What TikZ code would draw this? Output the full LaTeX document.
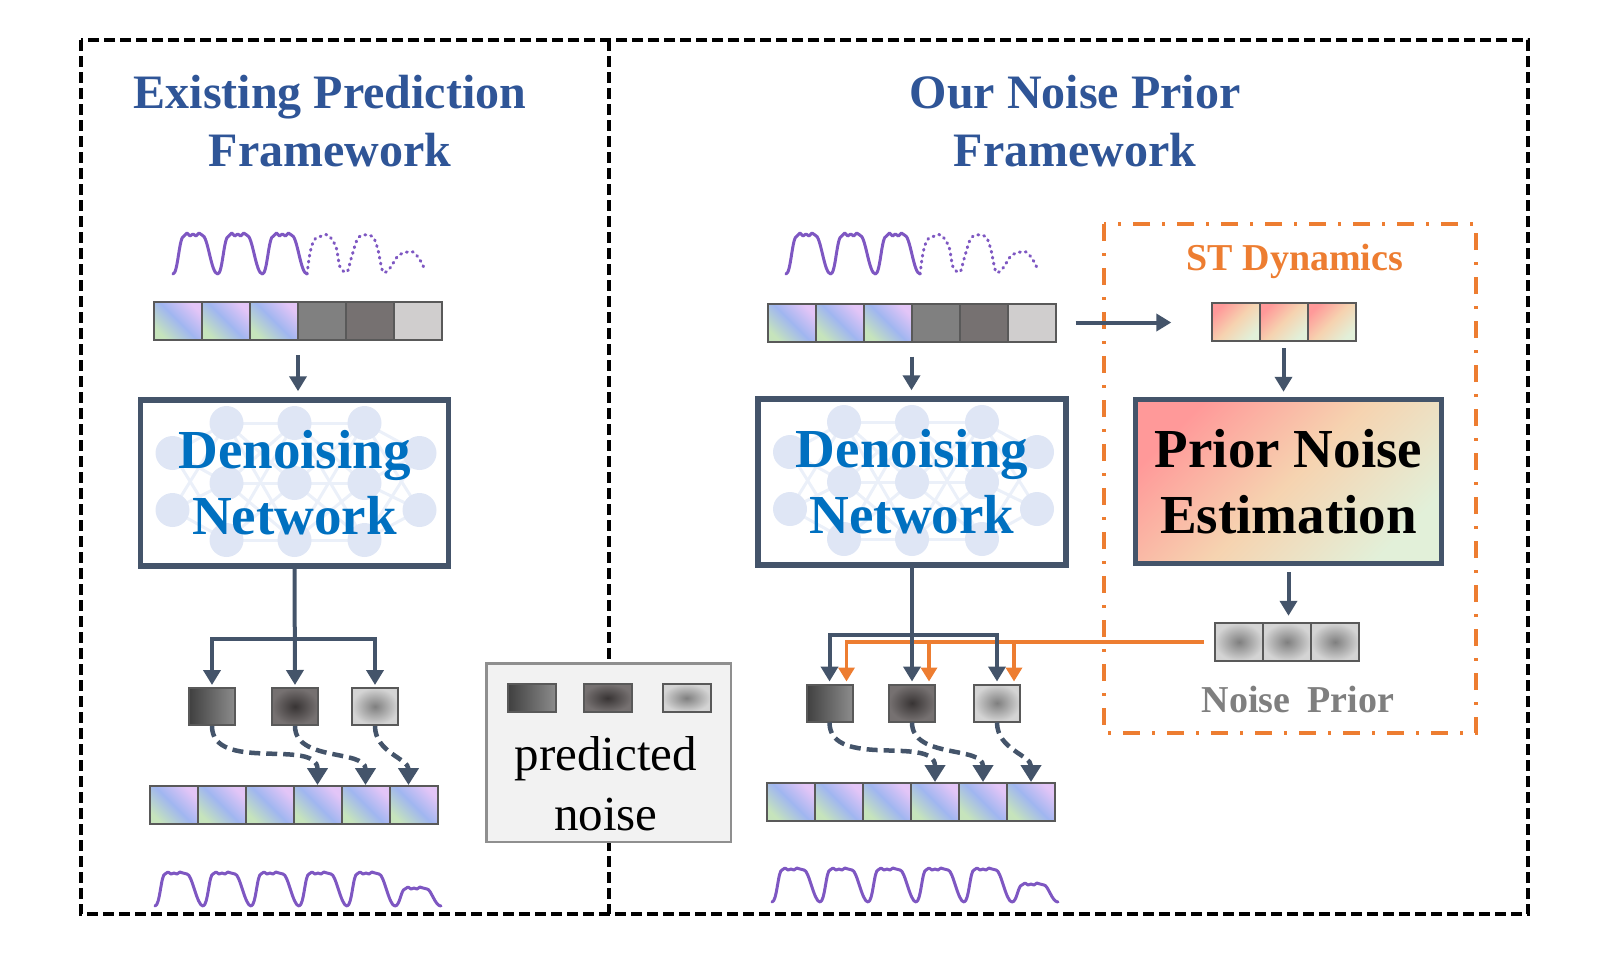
\documentclass[tikz,border=0pt]{standalone}
\usepackage{fontspec}
\setmainfont{Liberation Serif}
\usetikzlibrary{arrows.meta,positioning,matrix,backgrounds}

\definecolor{titleblue}{HTML}{2F5597}
\definecolor{dnblue}{HTML}{0070C0}
\definecolor{slate}{HTML}{44546A}
\definecolor{stor}{HTML}{ED7D31}
\definecolor{wave}{HTML}{7E57C2}
\definecolor{cellgray}{HTML}{595959}
\definecolor{pcell}{HTML}{E3C5F7}
\definecolor{bcell}{HTML}{A0B6F0}
\definecolor{gcell}{HTML}{C6E4BC}
\definecolor{futa}{HTML}{808080}
\definecolor{futb}{HTML}{767171}
\definecolor{futc}{HTML}{D0CECE}
\definecolor{pk}{HTML}{FF9999}
\definecolor{peach}{HTML}{F6D3B0}
\definecolor{lg}{HTML}{E2F0D9}
\definecolor{nzdark}{HTML}{404040}
\definecolor{nzmid}{HTML}{8C8C8C}
\definecolor{nzcore}{HTML}{383434}
\definecolor{nzrim}{HTML}{767171}
\definecolor{nzlcore}{HTML}{7F7F7F}
\definecolor{nzlrim}{HTML}{D4D4D4}
\definecolor{netnode}{HTML}{DFE6F5}
\definecolor{netedge}{HTML}{EBF0F9}
\definecolor{legfill}{HTML}{F2F2F2}
\definecolor{legline}{HTML}{8F8F8F}
\definecolor{lblgray}{HTML}{7F7F7F}

\begin{document}
\begin{tikzpicture}[x=1pt, y=-1pt,
frame/.style={line width=4pt, dash pattern=on 11pt off 5pt},
stframe/.style={draw=stor, line width=3.5pt, dash pattern=on 17pt off 12pt on 3pt off 12pt},
title/.style={align=center, text=titleblue, font=\fontsize{48}{58}\selectfont\bfseries},
seq/.style={
    matrix of nodes,
    nodes in empty cells,
    inner sep=0pt,
    column sep=-2pt,
    nodes={
        draw=cellgray,
        line width=2pt,
        minimum width=48pt,
        minimum height=38pt,
        inner sep=0pt
    }
    },
hist/.style={top color=pcell, bottom color=gcell, middle color=bcell, shading angle=-45},
futA/.style={fill=futa},
futB/.style={fill=futb},
futC/.style={fill=futc},
stcell/.style={top color=pk, bottom color=lg, middle color=peach, shading angle=45},
npcell/.style={inner color=nzlcore, outer color=nzlrim},
nzbox/.style={draw=cellgray, line width=2pt, inner sep=0pt, minimum width=46pt, minimum height=37pt},
nzlin/.style={left color=nzdark, right color=nzmid},
nzrad/.style={inner color=nzcore, outer color=nzrim},
nzpale/.style={inner color=nzlcore, outer color=nzlrim},
dnbox/.style={draw=slate, line width=5.5pt, minimum width=308pt, minimum height=166pt,
    inner sep=0pt, align=center, text=dnblue, font=\fontsize{55}{66}\selectfont\bfseries},
pnebox/.style={dnbox, text=black, top color=pk, bottom color=lg, middle color=peach,
    shading angle=45, minimum width=306pt, minimum height=164pt},
arr/.style={draw=slate, line width=4pt, -{Triangle[width=17pt,length=15pt]}},
oarr/.style={draw=stor, line width=3.5pt, -{Triangle[width=16pt,length=14pt]}},
darr/.style={draw=slate, line width=4.5pt, dash pattern=on 11pt off 6pt, -{Triangle[width=20pt,length=17pt]}},
wavy/.style={draw=wave, line width=3pt, line join=round, line cap=round},
inwave/.pic={
    \foreach \k in {0,1,2}
        \draw[wavy, xshift=44.7*\k] (0,41) .. controls (5,41) and (6,3) .. (11,3) -- (14,0) -- (17,3) -- (20,1)
            -- (23,3) -- (26,0) -- (29,2) .. controls (35,2) and (38,41) .. (44.7,41);
    \draw[wavy, dash pattern=on 1pt off 5pt] plot[smooth] coordinates {(134,41) (137,20) (141,7) (146,4) (155,2)
        (163,14) (167,34) (174,39) (178,26) (184,7) (190,2) (200,4) (205,17) (210,39) (217,35) (224,24)
        (230,20) (240,19) (247,27) (252,37)};
},
outwave/.pic={
    \foreach \k in {0,...,4}
        \draw[wavy, xshift=48*\k] (0,34) .. controls (5,34) and (6,2) .. (10,2) -- (13,0) -- (16,2) -- (19,1)
            -- (22,2) -- (25,0) -- (28,1) -- (32,2) .. controls (37,2) and (42,34) .. (48,34);
    \draw[wavy, xshift=240] (0,34) .. controls (5,34) and (6,17) .. (10,17) -- (13,15) -- (16,17) -- (19,16)
        -- (22,17) -- (25,15) -- (28,16) -- (32,17) .. controls (36,17) and (40,34) .. (46,34);
},
nnet/.pic={
    \foreach \y in {-30,27} \foreach \z in {-60,0,57} {
        \draw[netedge, line width=3pt] (-122,\y) -- (-68,\z);
        \draw[netedge, line width=3pt] (125,\y) -- (70,\z);
    }
    \foreach \y in {-60,0,57} \foreach \z in {-60,0,57} {
        \draw[netedge, line width=3pt] (-68,\y) -- (0,\z);
        \draw[netedge, line width=3pt] (0,\y) -- (70,\z);
    }
    \foreach \x/\y in {-122/-30,-122/27,125/-30,125/27} \fill[netnode] (\x,\y) circle (17);
    \foreach \x in {-68,0,70} \foreach \y in {-60,0,57} \fill[netnode] (\x,\y) circle (17);
}
]
\useasboundingbox (0,0) rectangle (1600,962);

% panels
\draw[frame] (81,40) rectangle (1528,914);
\draw[frame] (609,40) -- (609,914);
\draw[stframe] (1104,224) rectangle (1476,733);

\node[title] (titleL) at (330,121) {Existing Prediction\\Framework};
\node[title] (titleR) at (1075,121) {Our Noise Prior\\Framework};

% existing framework
\pic at (173,233) {inwave};
\matrix[seq] (inL) at (298,321) {|[hist]| & |[hist]| & |[hist]| & |[futA]| & |[futB]| & |[futC]| \\};
\node[dnbox] (dnL) at (294.5,483) {Denoising\\Network};
\node[nzbox, nzlin] (nA) at (212,706.5) {};
\node[nzbox, nzrad] (nB) at (295,706.5) {};
\node[nzbox, nzpale] (nC) at (375,706.5) {};
\matrix[seq] (outL) at (293.5,805) {|[hist]| & |[hist]| & |[hist]| & |[hist]| & |[hist]| & |[hist]| \\};
\pic at (155,872) {outwave};

\draw[arr, shorten <=14pt, shorten >=6pt] (inL.south) -- (inL.south |- dnL.north);
\path (dnL.south) ++(0,70) coordinate (brL);
\draw[arr, shorten >=2pt] (dnL.south) -- (nB.north);
\draw[arr, shorten >=2pt] (brL) -| (nA.north);
\draw[arr, shorten >=2pt] (brL) -| (nC.north);
\draw[darr] (nA.south) to[out=-90, in=90] (outL-1-4.north);
\draw[darr] (nB.south) to[out=-90, in=90] (outL-1-5.north);
\draw[darr] (nC.south) to[out=-90, in=90] ([xshift=-5pt]outL-1-6.north);

% legend
\node[draw=legline, line width=2.5pt, fill=legfill, minimum width=244.5pt, minimum height=178.5pt] (leg) at (608.5,752.5) {};
\node[nzbox, nzlin, minimum width=48pt, minimum height=28pt] (lgA) at (532,698) {};
\node[nzbox, nzrad, minimum width=48pt, minimum height=28pt] (lgB) at (607.5,698) {};
\node[nzbox, nzpale, minimum width=48pt, minimum height=28pt] (lgC) at (686.5,698) {};
\node[align=center, font=\fontsize{49}{60}\selectfont] (legtxt) at (606,783.5) {predicted\\noise};

% noise prior framework
\pic at (786,233) {inwave};
\matrix[seq] (inR) at (911.5,322.5) {|[hist]| & |[hist]| & |[hist]| & |[futA]| & |[futB]| & |[futC]| \\};
\node[dnbox] (dnR) at (912,482) {Denoising\\Network};
\node[nzbox, nzlin] (nD) at (829.5,703) {};
\node[nzbox, nzrad] (nE) at (912,703) {};
\node[nzbox, nzpale] (nF) at (997,703) {};
\matrix[seq] (outR) at (911,802) {|[hist]| & |[hist]| & |[hist]| & |[hist]| & |[hist]| & |[hist]| \\};
\pic at (772,868) {outwave};

\node[anchor=base, text=stor, font=\fontsize{38}{44}\selectfont\bfseries] (stlabel) at (1295,270) {ST Dynamics};
\matrix[seq] (stR) at (1283.5,322) {|[stcell]| & |[stcell]| & |[stcell]| \\};
\node[pnebox] (pne) at (1288.5,481.5) {Prior Noise\\Estimation};
\matrix[seq] (npR) at (1287,642) {|[npcell]| & |[npcell]| & |[npcell]| \\};
\node[anchor=base, text=lblgray, font=\fontsize{38}{44}\selectfont\bfseries] (nplabel) at (1298,712) {Noise\hspace{0.45em}Prior};

\draw[oarr, shorten >=2pt] ([xshift=-10pt]npR.west) -| ([xshift=17pt]nD.north);
\draw[oarr, shorten >=2pt] ([xshift=-10pt]npR.west) -| ([xshift=17pt]nE.north);
\draw[oarr, shorten >=2pt] ([xshift=-10pt]npR.west) -| ([xshift=17pt]nF.north);

\draw[arr, shorten <=14pt, shorten >=6pt] (inR.south) -- (inR.south |- dnR.north);
\path (dnR.south) ++(0,67) coordinate (brR);
\draw[arr, shorten >=2pt] (dnR.south) -- (nE.north);
\draw[arr, shorten >=2pt] (brR) -| (nD.north);
\draw[arr, shorten >=2pt] (brR) -| (nF.north);
\draw[darr] (nD.south) to[out=-90, in=90] (outR-1-4.north);
\draw[darr] (nE.south) to[out=-90, in=90] (outR-1-5.north);
\draw[darr] (nF.south) to[out=-90, in=90] (outR-1-6.north);

\draw[arr, shorten <=19pt, shorten >=39pt] (inR.east) -- (inR.east -| stR.west);
\draw[arr, shorten <=6pt, shorten >=5pt] (stR.south) -- (stR.south |- pne.north);
\draw[arr, shorten <=6pt, shorten >=6pt] (pne.south) -- (pne.south |- npR.north);

\begin{scope}[on background layer]
\pic at (dnL.center) {nnet};
\pic at (dnR.center) {nnet};
\end{scope}

\end{tikzpicture}
\end{document}
